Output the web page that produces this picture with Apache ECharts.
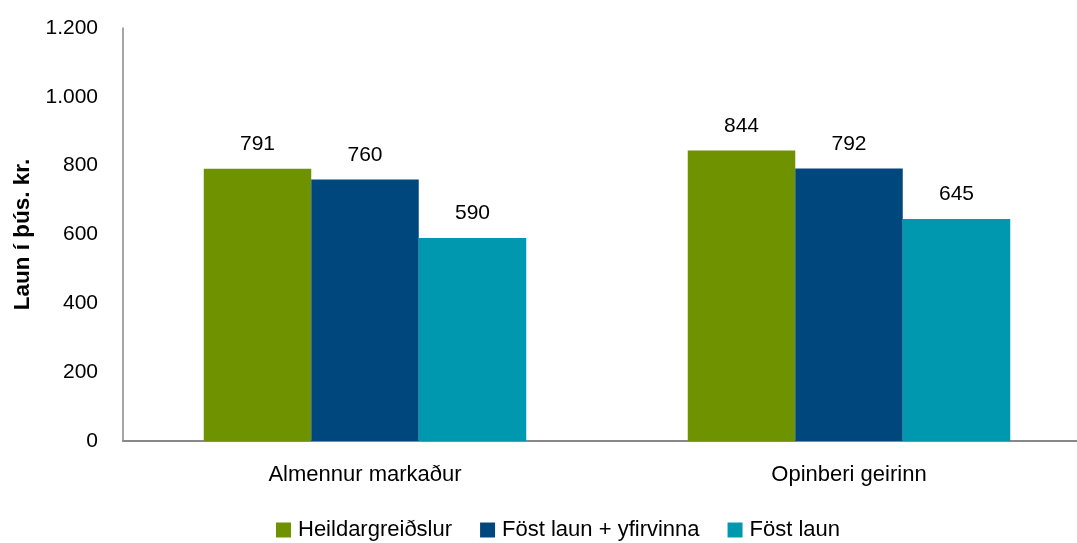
<!DOCTYPE html>
<html>
<head>
<meta charset="utf-8">
<script src="https://cdn.jsdelivr.net/npm/echarts@6/dist/echarts.min.js"></script>
<style>
  html, body { margin: 0; padding: 0; background: #fff; }
  #chart { width: 1077px; height: 543px; }
</style>
</head>
<body>
<div id="chart"></div>
<script>
// flokkar
var categories = ["Almennur markaður", "Opinberi geirinn"];
// raðir
var seriesNames = ["Heildargreiðslur", "Föst laun + yfirvinna", "Föst laun"];
var heildar = [791, 844];
var fostYfir = [760, 792];
var fost = [590, 645];
var yTicks = [0, 200, 400, 600, 800, 1000, 1200];

var colors = ["#6e9200", "#00477e", "#0098ae"];
var font = "'Liberation Sans', Arial, sans-serif";

function fmt(v) {
  return String(v).replace(/\B(?=(\d{3})+(?!\d))/g, ".");
}

function makeSeries(name, data) {
  return {
    name: name,
    type: "bar",
    data: data,
    barWidth: 107.5,
    barGap: "0%",
    label: {
      show: true,
      position: "top",
      distance: 14,
      color: "#000",
      fontFamily: font,
      fontSize: 21,
      formatter: function (p) { return fmt(p.value); },
    },
  };
}

var chart = echarts.init(document.getElementById("chart"));
chart.setOption({
  animation: false,
  color: colors,
  textStyle: { fontFamily: font },
  grid: { left: 123, right: -14, top: 28, bottom: 102, containLabel: false, outerBoundsMode: "none" },
  legend: {
    left: 271,
    top: 514,
    itemWidth: 15,
    itemHeight: 15,
    itemGap: 28,
    icon: "rect",
    textStyle: { color: "#000", fontFamily: font, fontSize: 22, padding: [0, 0, 0, 2] },
    data: seriesNames,
  },
  xAxis: {
    type: "category",
    data: categories,
    axisLine: { lineStyle: { color: "#898989", width: 2 } },
    axisTick: { show: false },
    axisLabel: { color: "#000", fontFamily: font, fontSize: 22, margin: 23 },
  },
  yAxis: {
    type: "value",
    min: yTicks[0],
    max: yTicks[yTicks.length - 1],
    interval: 200,
    name: "Laun í þús. kr.",
    nameLocation: "middle",
    nameGap: 88,
    nameTextStyle: { color: "#000", fontFamily: font, fontSize: 22.5, fontWeight: "bold" },
    axisLine: { show: true, lineStyle: { color: "#898989", width: 1.5 } },
    axisTick: { show: false },
    splitLine: { show: false },
    axisLabel: {
      color: "#000",
      fontFamily: font,
      fontSize: 21,
      margin: 25,
      formatter: function (v) { return fmt(v); },
    },
  },
  series: [
    makeSeries(seriesNames[0], heildar),
    makeSeries(seriesNames[1], fostYfir),
    makeSeries(seriesNames[2], fost),
  ],
});
</script>
</body>
</html>
